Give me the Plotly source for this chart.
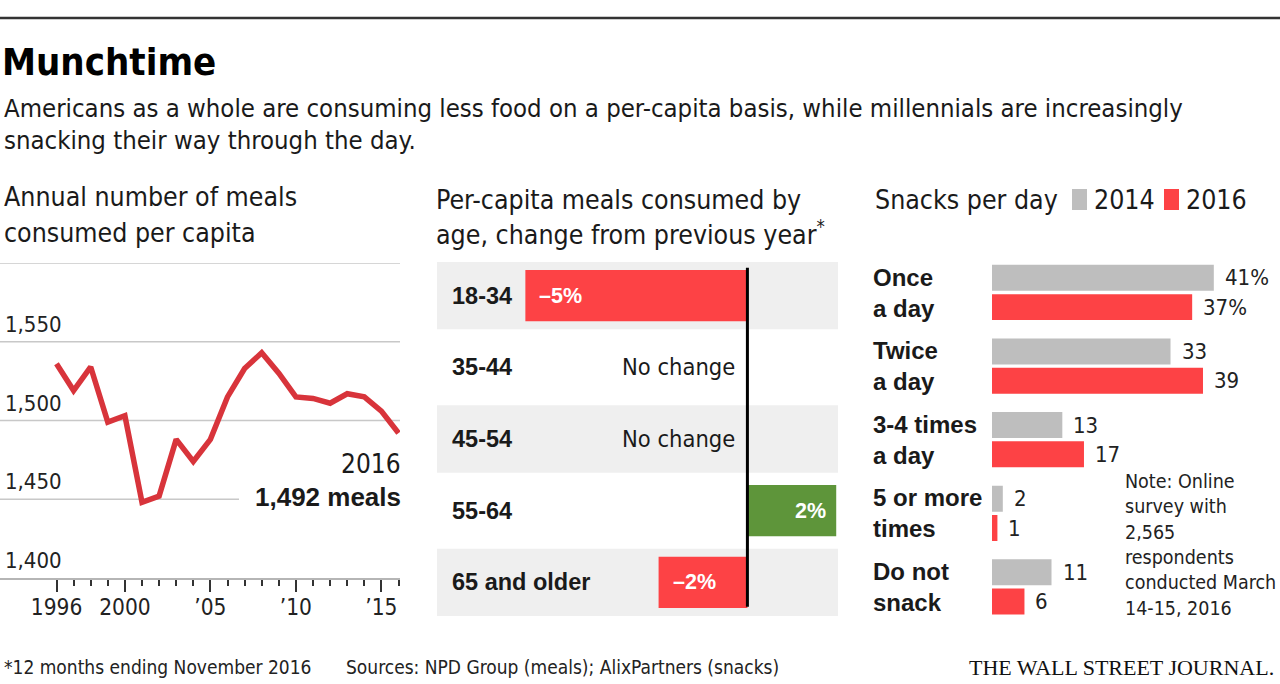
import plotly.graph_objects as go

# ---------------- data ----------------
years = list(range(1996, 2017))
meals = [1536, 1519, 1534, 1499, 1503, 1448, 1452, 1488, 1474, 1488, 1515,
         1533, 1543, 1530, 1515, 1514, 1511, 1517, 1515, 1506, 1492]
meal_label_vals = [1400, 1450, 1500, 1550]
meal_label_text = ["1,400", "1,450", "1,500", "1,550"]
meal_grid_vals = [1450, 1500, 1550, 1600]
year_tick_vals = [1996, 2000, 2005, 2010, 2015]
year_tick_text = ["1996", "2000", "’05", "’10", "’15"]

age_groups = ["18-34", "35-44", "45-54", "55-64", "65 and older"]
age_change = [-5, 0, 0, 2, -2]

snack_cats = ["Once<br>a day", "Twice<br>a day", "3-4 times<br>a day",
              "5 or more<br>times", "Do not<br>snack"]
snacks_2014 = [41, 33, 13, 2, 11]
snacks_2016 = [37, 39, 17, 1, 6]

note_lines = ["Note: Online", "survey with", "2,565", "respondents",
              "conducted March", "14-15, 2016"]

# ---------------- style ----------------
W, H = 1280, 684
NARROW = "'DejaVu Sans Condensed', 'Liberation Sans Narrow', sans-serif"
BOLD = "'Liberation Sans', Arial, sans-serif"
INK = "#1a1a1a"
RED_LINE = "#d8343b"
RED = "#fd4245"
GREEN = "#5e953a"
GRAY = "#bebebe"
BAND = "#efefef"
GRID = "#c8c8c8"


def px(x):
    return x / W


def py(y):
    return 1 - y / H


fig = go.Figure()

# ---- line chart ----
fig.add_trace(go.Scatter(x=years, y=meals, mode="lines",
                         line=dict(color=RED_LINE, width=5.5),
                         xaxis="x", yaxis="y", hoverinfo="skip"))

# ---- age bar chart ----
fig.add_trace(go.Bar(x=age_change, y=age_groups, orientation="h", width=0.715,
                     marker=dict(color=[RED if v < 0 else GREEN for v in age_change],
                                 line=dict(width=0)),
                     xaxis="x2", yaxis="y2", hoverinfo="skip"))

# ---- snacks ----
fig.add_trace(go.Bar(x=snacks_2014, y=snack_cats, orientation="h",
                     width=0.353, offset=-0.376,
                     marker=dict(color=GRAY, line=dict(width=0)),
                     xaxis="x3", yaxis="y3", hoverinfo="skip"))
fig.add_trace(go.Bar(x=snacks_2016, y=snack_cats, orientation="h",
                     width=0.353, offset=0.022,
                     marker=dict(color=RED, line=dict(width=0)),
                     xaxis="x3", yaxis="y3", hoverinfo="skip"))

shapes = []
ann = []

# top rule
shapes.append(dict(type="line", xref="paper", yref="paper", x0=0, x1=1,
                   y0=py(18), y1=py(18), line=dict(color="#333", width=2.5)))

# line chart gridlines
for v in meal_grid_vals:
    x1 = 239 if v == 1450 else 400
    shapes.append(dict(type="line", xref="paper", yref="y", x0=0, x1=px(x1),
                       y0=v, y1=v, line=dict(color=GRID, width=1.5), layer="below"))
for v, t in zip(meal_label_vals, meal_label_text):
    ann.append(dict(text=t, xref="paper", yref="y", x=px(3), y=v,
                    xanchor="left", yanchor="bottom", yshift=3, showarrow=False,
                    font=dict(family=NARROW, size=22, color="#222")))

ann.append(dict(text="2016", xref="paper", yref="paper", x=px(403), y=py(464),
                xanchor="right", yanchor="middle", showarrow=False,
                font=dict(family=NARROW, size=26, color=INK)))
ann.append(dict(text="1,492 meals", xref="paper", yref="paper", x=px(403), y=py(497),
                xanchor="right", yanchor="middle", showarrow=False,
                font=dict(family=BOLD, size=26, color=INK, weight="bold")))

# age chart bands
for i in range(0, len(age_groups), 2):
    shapes.append(dict(type="rect", xref="x2 domain", yref="y2", x0=0, x1=1,
                       y0=i - 0.47, y1=i + 0.47, fillcolor=BAND,
                       line=dict(width=0), layer="below"))
shapes.append(dict(type="line", xref="x2", yref="y2", x0=0, x1=0,
                   y0=-0.39, y1=len(age_groups) - 1 + 0.34,
                   line=dict(color="#000", width=3)))
for i, (g, v) in enumerate(zip(age_groups, age_change)):
    ann.append(dict(text=g, xref="paper", yref="y2", x=px(450), y=i,
                    xanchor="left", yanchor="middle", showarrow=False,
                    font=dict(family=BOLD, size=23.5, color=INK, weight="bold")))
    if v == 0:
        ann.append(dict(text="No change", xref="x2", yref="y2", x=0, y=i,
                        xanchor="right", yanchor="middle", xshift=-10, showarrow=False,
                        font=dict(family=NARROW, size=23.5, color=INK)))
    elif v < 0:
        ann.append(dict(text=f"–{abs(v)}%", xref="x2", yref="y2", x=v, y=i,
                        xanchor="left", yanchor="middle", xshift=12, showarrow=False,
                        font=dict(family=BOLD, size=21.5, color="white", weight="bold")))
    else:
        ann.append(dict(text=f"{v}%", xref="x2", yref="y2", x=v, y=i,
                        xanchor="right", yanchor="middle", xshift=-8, showarrow=False,
                        font=dict(family=BOLD, size=21.5, color="white", weight="bold")))

# snacks labels
for i, c in enumerate(snack_cats):
    ann.append(dict(text=c, xref="paper", yref="y3", x=px(871), y=i,
                    xanchor="left", yanchor="middle", align="left", showarrow=False,
                    font=dict(family=BOLD, size=24, color=INK, weight="bold")))
for i, (a, b) in enumerate(zip(snacks_2014, snacks_2016)):
    sa = f"{a}%" if i == 0 else f"{a}"
    sb = f"{b}%" if i == 0 else f"{b}"
    ann.append(dict(text=sa, xref="x3", yref="y3", x=a, y=i - 0.2,
                    xanchor="left", yanchor="middle", xshift=9, showarrow=False,
                    font=dict(family=NARROW, size=22, color="#222")))
    ann.append(dict(text=sb, xref="x3", yref="y3", x=b, y=i + 0.2,
                    xanchor="left", yanchor="middle", xshift=9, showarrow=False,
                    font=dict(family=NARROW, size=22, color="#222")))
for k, t in enumerate(note_lines):
    ann.append(dict(text=t, xref="paper", yref="paper", x=px(1123), y=py(481.5 + 25.3 * k),
                    xanchor="left", yanchor="middle", showarrow=False,
                    font=dict(family=NARROW, size=19.5, color="#222")))

# legend
shapes.append(dict(type="rect", xref="paper", yref="paper", x0=px(1072), x1=px(1087),
                   y0=py(210), y1=py(189), fillcolor=GRAY, line=dict(width=0)))
shapes.append(dict(type="rect", xref="paper", yref="paper", x0=px(1164), x1=px(1179),
                   y0=py(210), y1=py(189), fillcolor=RED, line=dict(width=0)))
for t, x in [("Snacks per day", 873), ("2014", 1092), ("2016", 1184)]:
    ann.append(dict(text=t, xref="paper", yref="paper", x=px(x), y=py(199),
                    xanchor="left", yanchor="middle", showarrow=False,
                    font=dict(family=NARROW, size=26.5, color=INK)))

# panel titles
for t, x, y in [("Annual number of meals", 2, 197), ("consumed per capita", 2, 232),
                ("Per-capita meals consumed by", 434, 199),
                ("age, change from previous year<sup>*</sup>", 434, 233)]:
    ann.append(dict(text=t, xref="paper", yref="paper", x=px(x), y=py(y),
                    xanchor="left", yanchor="middle", showarrow=False,
                    font=dict(family=NARROW, size=26.5, color=INK)))

# headline & subtitle
ann.append(dict(text="Munchtime", xref="paper", yref="paper", x=px(0), y=py(62),
                xanchor="left", yanchor="middle", showarrow=False,
                font=dict(family=NARROW, size=38, color="#000", weight="bold")))
for t, y in [("Americans as a whole are consuming less food on a per-capita basis, while millennials are increasingly", 108),
             ("snacking their way through the day.", 140)]:
    ann.append(dict(text=t, xref="paper", yref="paper", x=px(2), y=py(y),
                    xanchor="left", yanchor="middle", showarrow=False,
                    font=dict(family=NARROW, size=25.5, color=INK)))

# footer
ann.append(dict(text="*12 months ending November 2016", xref="paper", yref="paper",
                x=px(2), y=py(667), xanchor="left", yanchor="middle", showarrow=False,
                font=dict(family=NARROW, size=19, color="#222")))
ann.append(dict(text="Sources: NPD Group (meals); AlixPartners (snacks)", xref="paper",
                yref="paper", x=px(344), y=py(667), xanchor="left", yanchor="middle",
                showarrow=False, font=dict(family=NARROW, size=19, color="#222")))
ann.append(dict(text="THE WALL STREET JOURNAL.", xref="paper", yref="paper",
                x=px(1276), y=py(667), xanchor="right", yanchor="middle", showarrow=False,
                font=dict(family="'Liberation Serif', 'Times New Roman', serif", size=22,
                          color="#111")))

fig.update_layout(
    width=W, height=H, margin=dict(l=0, r=0, t=0, b=0),
    paper_bgcolor="white", plot_bgcolor="rgba(0,0,0,0)",
    showlegend=False, barmode="overlay",
    shapes=shapes, annotations=ann,
    xaxis=dict(domain=[0, px(400)], range=[1996 - 56.5 / 17.1, 1996 + (400 - 56.5) / 17.1],
               tickmode="array", tickvals=year_tick_vals, ticktext=year_tick_text,
               ticks="outside", ticklen=12, tickwidth=2, tickcolor="#333",
               ticklabelstandoff=-4,
               minor=dict(tickmode="array", tickvals=years, ticks="outside", ticklen=6,
                          tickwidth=2, tickcolor="#333"),
               showline=True, linecolor="#b5b5b5", linewidth=2,
               showgrid=False, zeroline=False, fixedrange=True,
               tickfont=dict(family=NARROW, size=22.5, color="#222")),
    yaxis=dict(domain=[py(578), py(263)], range=[1400, 1600], visible=False,
               showgrid=False, zeroline=False, fixedrange=True),
    xaxis2=dict(domain=[px(437), px(838)], range=[-6.99, 2.04], visible=False,
                fixedrange=True),
    yaxis2=dict(domain=[py(616), py(262)], type="category", categoryarray=age_groups,
                range=[len(age_groups) - 1 + 0.47, -0.47], visible=False, fixedrange=True),
    xaxis3=dict(domain=[px(992), 1], range=[0, 288 / 5.41], visible=False,
                fixedrange=True),
    yaxis3=dict(domain=[py(623.8), py(255.7)], type="category", categoryarray=snack_cats,
                range=[len(snack_cats) - 0.5, -0.5], visible=False, fixedrange=True),
)

fig.write_html("out.html", config={"displayModeBar": False},
               post_script="document.body.style.margin='0';document.body.style.overflow='hidden';")
